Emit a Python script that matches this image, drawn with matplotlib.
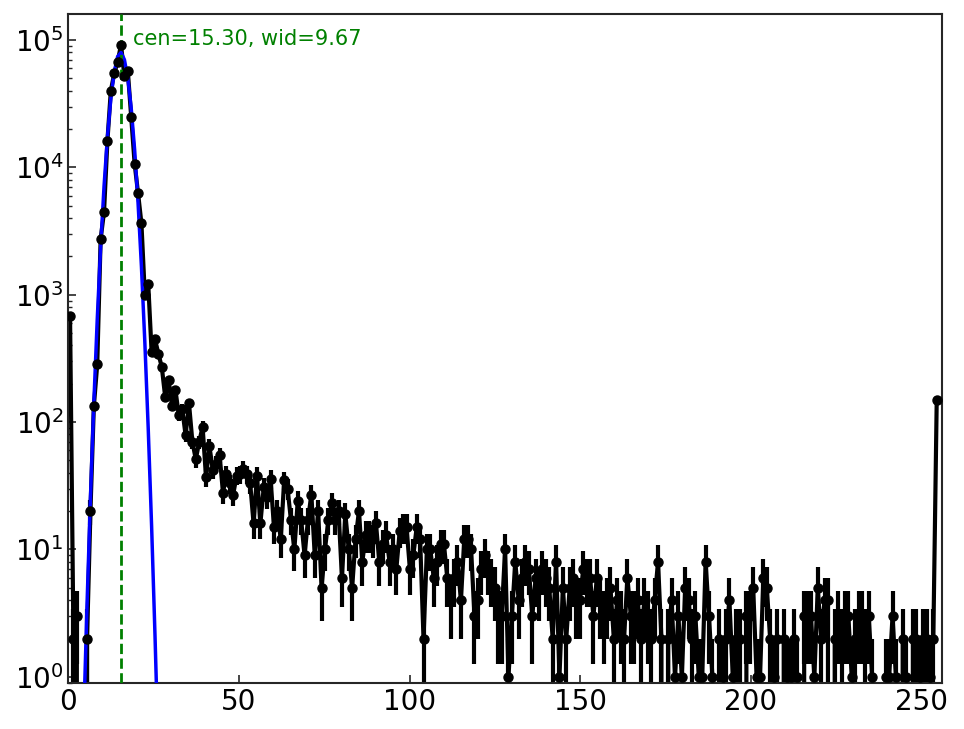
import numpy as np
import matplotlib
matplotlib.use("Agg")
import matplotlib.pyplot as plt

# histogram counts, 256 bins over 0..255
counts = [
    680, 2, 3, 0, 0, 2, 20, 133, 284, 2742,
    4470, 16200, 40000, 54600, 67400, 91700, 51700, 57000, 25000, 10700,
    6300, 3640, 1000, 1225, 355, 446, 344, 270, 157, 215,
    135, 180, 113, 127, 79, 140, 70, 51, 70, 92,
    37, 65, 42, 47, 55, 28, 39, 33, 27, 38,
    39, 43, 39, 33, 16, 38, 16, 31, 26, 36,
    15, 20, 12, 35, 30, 17, 10, 24, 17, 9,
    17, 27, 9, 20, 5, 10, 17, 23, 17, 20,
    6, 19, 10, 5, 12, 20, 8, 13, 13, 12,
    16, 8, 11, 13, 8, 10, 7, 14, 15, 15,
    7, 9, 15, 12, 2, 10, 10, 6, 8, 11,
    11, 6, 4, 6, 8, 4, 12, 12, 10, 3,
    4, 7, 9, 7, 6, 5, 3, 3, 10, 1,
    3, 8, 4, 6, 8, 7, 3, 6, 5, 7,
    6, 5, 2, 8, 1, 5, 2, 5, 6, 4,
    4, 7, 6, 6, 3, 6, 4, 3, 4, 5,
    2, 4, 3, 2, 6, 3, 3, 4, 2, 4,
    3, 2, 4, 8, 2, 0, 2, 4, 1, 3,
    1, 5, 4, 2, 3, 1, 1, 8, 3, 1,
    0, 2, 1, 2, 4, 1, 2, 2, 0, 3,
    3, 5, 1, 1, 6, 5, 2, 1, 2, 0,
    2, 1, 1, 2, 1, 0, 3, 3, 3, 1,
    5, 2, 4, 4, 0, 2, 3, 2, 3, 3,
    1, 2, 3, 3, 2, 3, 1, 0, 0, 0,
    1, 1, 3, 1, 0, 2, 1, 0, 2, 2,
    1, 2, 2, 1, 2, 148,
]

# gaussian fit result
cen = 15.30
wid = 9.67
amp = 8.0e4

counts = np.array(counts, dtype=float)
edges = np.linspace(0, 255, len(counts) + 1)
x = 0.5 * (edges[:-1] + edges[1:])
err = np.sqrt(counts)
fit = amp * np.exp(-(x - cen) ** 2 / wid)

fig = plt.figure(figsize=(9.64, 7.29), dpi=100)
ax = fig.add_axes([0.0709, 0.0627, 0.9061, 0.9181])

# data line + error bars, fit on top, then the markers
ax.errorbar(x, counts, yerr=err, fmt='k-', lw=3, elinewidth=3,
            capsize=0, zorder=2)
ax.plot(x, fit, color='b', lw=2.5, zorder=3)
ax.axvline(cen, color='g', ls='--', lw=2, zorder=4)
ax.plot(x, counts, 'ko', ms=6.5, zorder=5)
ax.text(19.0, 9.2e4, 'cen=%.2f, wid=%.2f' % (cen, wid), color='g',
        fontsize=15, va='baseline')

ax.set_yscale('log', nonpositive='clip')
ax.set_xlim(0, 256)
ax.set_ylim(0.89, 1.6e5)
ax.set_xticks([0, 50, 100, 150, 200, 250])

ax.tick_params(which='both', direction='in', top=False, right=False,
               labelsize=20, color='#262626')
ax.tick_params(which='major', length=6, width=1.2)
ax.tick_params(which='minor', length=3, width=1)
for s in ax.spines.values():
    s.set_linewidth(1.5)
    s.set_color('#262626')

fig.savefig('out.png', dpi=100)
